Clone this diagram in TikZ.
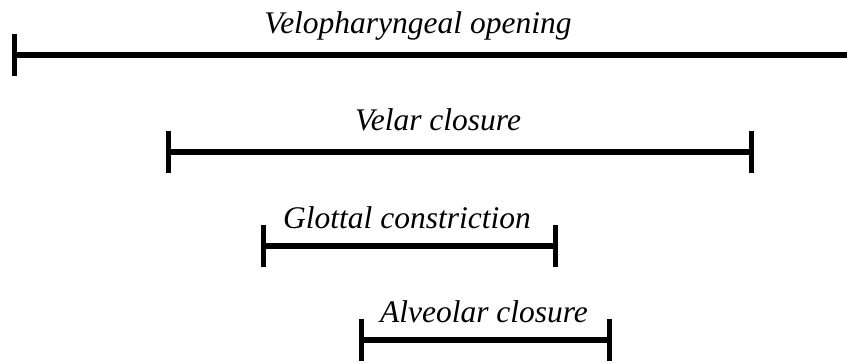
\documentclass[tikz,border=0pt]{standalone}
\usepackage{fontspec}
\setmainfont{Liberation Serif}
\usetikzlibrary{arrows.meta}
\tikzset{
  endbar/.tip={Bar[width=42pt,line width=5pt]},
  span/.style={line width=5.5pt,endbar-endbar},
  openspan/.style={line width=5.5pt,endbar-},
}

\begin{document}
\begin{tikzpicture}[x=1pt,y=-1pt,every node/.style={font=\fontsize{31.5}{38}\selectfont\itshape,inner sep=0pt,anchor=base}]
    \useasboundingbox (0,0) rectangle (847,362);
    \coordinate (veloL) at (11.5,55);  \coordinate (veloR) at (847,55);
    \coordinate (velarL) at (165.5,152); \coordinate (velarR) at (753.5,152);
    \coordinate (glotL) at (260.5,246); \coordinate (glotR) at (557.5,246);
    \coordinate (alvL) at (358.5,340);  \coordinate (alvR) at (611.5,340);
    \node (velo) at (418,33) {Velopharyngeal opening};
    \node (velar) at (438,130) {Velar closure};
    \node (glot) at (407,228) {Glottal constriction};
    \node (alv) at (484,322) {Alveolar closure};
    \draw[openspan] (veloL)--(veloR);
    \foreach \x/\y in {velarL/velarR,glotL/glotR,alvL/alvR}{\draw[span] (\x)--(\y);}
\end{tikzpicture}
\end{document}
